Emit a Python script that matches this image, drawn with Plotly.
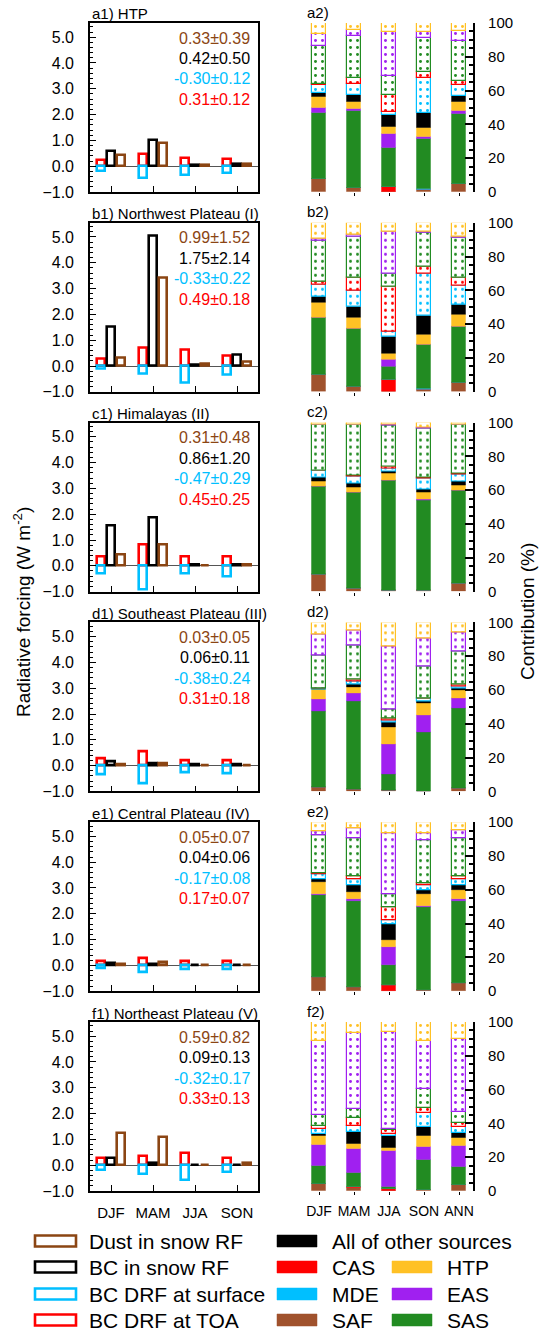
import plotly.graph_objects as go

# ---------------- data ----------------
SEASONS4 = ["DJF", "MAM", "JJA", "SON"]
SEASONS5 = ["DJF", "MAM", "JJA", "SON", "ANN"]
REGIONS = ["HTP", "Northwest Plateau (I)", "Himalayas (II)",
           "Southeast Plateau (III)", "Central Plateau (IV)", "Northeast Plateau (V)"]
LETTERS = ["a", "b", "c", "d", "e", "f"]

# left panels: radiative forcing (W m-2), rows = regions, cols = DJF MAM JJA SON
BC_DRF_TOA = [
    [0.23, 0.49, 0.33, 0.29],
    [0.29, 0.70, 0.61, 0.40],
    [0.35, 0.82, 0.35, 0.35],
    [0.28, 0.55, 0.21, 0.22],
    [0.15, 0.26, 0.17, 0.16],
    [0.26, 0.35, 0.49, 0.27]]
BC_DRF_SFC = [
    [-0.19, -0.47, -0.35, -0.26],
    [-0.10, -0.30, -0.64, -0.36],
    [-0.30, -0.92, -0.30, -0.43],
    [-0.36, -0.70, -0.27, -0.31],
    [-0.12, -0.25, -0.15, -0.16],
    [-0.19, -0.36, -0.58, -0.28]]
BC_SNOW = [
    [0.60, 1.03, 0.04, 0.10],
    [1.51, 5.05, 0.05, 0.45],
    [1.56, 1.88, 0.04, 0.06],
    [0.18, 0.09, 0.03, 0.04],
    [0.10, 0.04, 0.01, 0.01],
    [0.27, 0.08, 0.01, 0.02]]
DUST_SNOW = [
    [0.42, 0.88, 0.03, 0.07],
    [0.32, 3.43, 0.10, 0.15],
    [0.43, 0.84, 0.02, 0.04],
    [0.05, 0.09, 0.01, 0.02],
    [0.04, 0.12, 0.02, 0.01],
    [1.23, 1.08, 0.01, 0.08]]

DUST_MEAN = [0.33, 0.99, 0.31, 0.03, 0.05, 0.59]
DUST_STD = [0.39, 1.52, 0.48, 0.05, 0.07, 0.82]
BCS_MEAN = [0.42, 1.75, 0.86, 0.06, 0.04, 0.09]
BCS_STD = [0.50, 2.14, 1.20, 0.11, 0.06, 0.13]
SFC_MEAN = [-0.30, -0.33, -0.47, -0.38, -0.17, -0.32]
SFC_STD = [0.12, 0.22, 0.29, 0.24, 0.08, 0.17]
TOA_MEAN = [0.31, 0.49, 0.45, 0.31, 0.17, 0.33]
TOA_STD = [0.12, 0.18, 0.25, 0.18, 0.07, 0.13]

# right panels: contribution (%), rows = regions, cols = DJF MAM JJA SON ANN
SAF = [[7.9, 2.2, 0, 1.0, 4.8], [9.9, 3.0, 0, 1.4, 5.5], [9.9, 1.6, 0.6, 0.5, 5.0],
       [2.6, 1.4, 0.6, 0, 1.8], [8.5, 2.2, 0, 0.3, 4.6], [4.4, 2.0, 0, 0.8, 3.6]]
CAS = [[0, 0, 3.0, 0, 0], [0, 0, 6.9, 0, 0], [0, 0, 0, 0, 0],
       [0, 0, 0, 0, 0], [0, 0, 3.4, 0, 0], [0, 0.2, 1.0, 0, 0]]
MDE = [[0, 0, 0, 0.6, 0], [0, 0, 0, 0.4, 0], [0, 0, 0, 0, 0],
       [0, 0, 0, 0, 0], [0, 0, 0, 0, 0], [0, 0, 0, 0, 0]]
SAS = [[39.1, 45.8, 23.2, 29.9, 41.2], [33.9, 34.2, 7.6, 26.3, 33.1], [52.1, 57.0, 64.9, 53.2, 55.0],
       [44.9, 52.1, 9.3, 34.9, 47.5], [48.5, 50.9, 12.0, 49.2, 48.5], [10.5, 8.7, 1.6, 17.6, 10.7]]
EAS = [[2.8, 1.0, 7.9, 1.0, 2.0], [0, 0, 4.5, 0, 0], [0, 0, 0, 0.6, 0],
       [6.8, 4.3, 18.2, 9.9, 5.9], [0.6, 1.2, 10.5, 1.0, 1.2], [12.2, 14.1, 21.2, 7.7, 12.2]]
HTP = [[6.2, 4.4, 4.4, 5.6, 5.0], [8.9, 6.4, 3.6, 5.8, 6.9], [3.3, 2.8, 4.4, 4.1, 3.0],
       [5.9, 4.0, 9.7, 7.5, 4.8], [7.0, 4.3, 4.2, 7.1, 5.5], [5.2, 2.7, 1.9, 6.6, 4.8]]
OTHER = [[2.3, 4.1, 6.9, 8.9, 3.9], [3.3, 6.5, 9.7, 10.9, 6.0], [2.0, 2.6, 1.4, 2.0, 2.3],
         [0.3, 1.8, 3.2, 1.0, 1.0], [1.5, 4.0, 9.5, 2.2, 3.2], [1.6, 7.0, 6.6, 5.1, 3.0]]
MDE_DOT = [[5.0, 6.2, 2.2, 20.3, 6.4], [7.4, 9.9, 3.5, 25.3, 11.5], [4.2, 4.1, 1.2, 6.5, 4.2],
           [0.7, 1.7, 1.2, 1.6, 1.4], [3.2, 3.5, 2.4, 3.0, 3.1], [2.7, 3.5, 1.4, 8.3, 3.3]]
CAS_DOT = [[0.8, 3.6, 9.7, 3.5, 2.6], [1.9, 7.3, 26.2, 3.8, 4.3], [0, 0.4, 1.4, 0.6, 0.4],
           [0, 0.8, 1.0, 0, 1.0], [0.4, 1.8, 7.9, 1.4, 2.0], [1.6, 5.0, 2.5, 2.8, 2.4]]
SAS_DOT = [[22.0, 24.8, 11.2, 20.5, 23.4], [24.2, 24.4, 8.1, 20.2, 23.6], [27.1, 30.3, 24.5, 29.1, 28.7],
           [19.2, 20.0, 5.1, 18.8, 19.2], [22.4, 22.8, 7.5, 25.1, 22.2], [6.8, 5.3, 0.3, 11.3, 6.9]]
EAS_DOT = [[7.6, 3.7, 26.1, 3.3, 5.7], [0.8, 1.4, 24.4, 0.4, 1.0], [0, 0, 0.4, 0.6, 0],
           [12.7, 8.9, 37.4, 17.0, 11.3], [2.6, 5.5, 35.9, 4.0, 5.1], [43.9, 44.8, 57.8, 28.7, 42.8]]
HTP_DOT = [[6.3, 4.2, 5.4, 5.4, 5.0], [9.7, 6.9, 5.5, 5.5, 8.1], [1.4, 1.2, 1.2, 2.8, 1.4],
           [6.9, 5.0, 14.3, 9.3, 6.1], [5.3, 3.8, 6.7, 6.7, 4.6], [11.1, 6.7, 5.7, 11.1, 10.3]]

# ---------------- styles ----------------
C_DUST = "#8B4513"
C_BC = "#000000"
C_SFC = "#00BFFF"
C_TOA = "#FF0000"
C_SAF = "#A0522D"
C_CAS = "#FF0000"
C_MDE = "#00BFFF"
C_SAS = "#228B22"
C_EAS = "#A020F0"
C_HTP = "#FFC125"
C_OTH = "#000000"
FONT = "Liberation Sans, Arial, sans-serif"

W, H = 548, 1335
def fx(p): return p / W
def fy(p): return 1 - p / H

ROW_TOP = [23 + 199.8 * i for i in range(6)]
PANEL_H = 169
LX0, LX1 = 90, 258
RX0, RX1 = 305, 473

def rgba(hexc, a):
    h = hexc.lstrip("#")
    return "rgba(%d,%d,%d,%.2f)" % (int(h[0:2], 16), int(h[2:4], 16), int(h[4:6], 16), a)

fig = go.Figure()
layout = {}
annotations = []
shapes = []

left_series = [(BC_DRF_TOA, C_TOA, -0.24), (BC_DRF_SFC, C_SFC, -0.24),
               (BC_SNOW, C_BC, 0.0), (DUST_SNOW, C_DUST, 0.24)]
solid_series = [(SAF, C_SAF), (CAS, C_CAS), (MDE, C_MDE), (SAS, C_SAS),
                (EAS, C_EAS), (HTP, C_HTP), (OTHER, C_OTH)]
dot_series = [(MDE_DOT, C_MDE), (CAS_DOT, C_CAS), (SAS_DOT, C_SAS),
              (EAS_DOT, C_EAS), (HTP_DOT, C_HTP)]

for r in range(6):
    top = ROW_TOP[r]
    bot = top + PANEL_H
    ydom = [fy(bot), fy(top)]
    nL, nR = 2 * r + 1, 2 * r + 2
    last = (r == 5)

    # ---- left panel
    for vals, col, off in left_series:
        fig.add_trace(go.Bar(
            x=[k + 1 + off for k in range(4)], y=vals[r], width=0.19,
            marker=dict(color="rgba(0,0,0,0)", line=dict(color=col, width=2.6)),
            xaxis="x%d" % nL, yaxis="y%d" % nL, showlegend=False, hoverinfo="y"))
    layout["xaxis%d" % nL] = dict(
        domain=[fx(LX0), fx(LX1)], range=[0.5, 4.5], anchor="y%d" % nL, automargin=False,
        tickmode="array", tickvals=[1, 2, 3, 4], ticktext=SEASONS4,
        showticklabels=last, ticks="inside", ticklen=6, tickwidth=1.2, tickcolor="black",
        showline=True, mirror=True, linecolor="black", linewidth=1.6,
        showgrid=False, zeroline=False, ticklabelstandoff=7,
        tickfont=dict(size=15, color="black"))
    layout["yaxis%d" % nL] = dict(
        domain=ydom, range=[-1, 5.55], anchor="x%d" % nL, automargin=False,
        tick0=0, dtick=1, tickformat=".1f", ticks="inside", ticklen=6, tickwidth=1.2,
        tickcolor="black",
        minor=dict(dtick=0.2, ticks="inside", ticklen=3, tickcolor="black", showgrid=False),
        showline=True, mirror=True, linecolor="black", linewidth=1.6,
        showgrid=False, zeroline=True, zerolinecolor="#555555", zerolinewidth=1,
        ticklabelstandoff=11, tickfont=dict(size=16, color="black"))

    # ---- right panel
    for vals, col in solid_series:
        fig.add_trace(go.Bar(
            x=SEASONS5, y=vals[r], width=0.4,
            marker=dict(color=col, line=dict(color=rgba(col, 0.45), width=1)),
            xaxis="x%d" % nR, yaxis="y%d" % nR, showlegend=False, hoverinfo="y"))
    for vals, col in dot_series:
        fig.add_trace(go.Bar(
            x=SEASONS5, y=vals[r], width=0.4,
            marker=dict(color="white", line=dict(color=col, width=1.2),
                        pattern=dict(shape=".", fgcolor=col, bgcolor="white",
                                     size=7, solidity=0.14, fillmode="replace")),
            xaxis="x%d" % nR, yaxis="y%d" % nR, showlegend=False, hoverinfo="y"))
    layout["xaxis%d" % nR] = dict(
        domain=[fx(RX0), fx(RX1)], range=[-0.4, 4.4], anchor="y%d" % nR, automargin=False,
        type="category", showticklabels=last, ticks="outside", ticklen=3,
        tickcolor="black", showline=False, showgrid=False, zeroline=False,
        ticklabelstandoff=4, tickfont=dict(size=14, color="black"))
    layout["yaxis%d" % nR] = dict(
        domain=ydom, range=[0, 100], anchor="x%d" % nR, side="right", automargin=False,
        tick0=0, dtick=20, ticks="inside", ticklen=8, tickwidth=2, tickcolor="black",
        minor=dict(dtick=5, ticks="inside", ticklen=4, tickcolor="black", showgrid=False),
        showline=True, linecolor="black", linewidth=2.2, showgrid=False, zeroline=False,
        ticklabelstandoff=10, tickfont=dict(size=15, color="black"))

    # ---- panel titles
    annotations.append(dict(x=fx(LX0), y=fy(top - 9), xref="paper", yref="paper",
                            text="%s1) %s" % (LETTERS[r], REGIONS[r]), showarrow=False,
                            xanchor="left", yanchor="middle", font=dict(size=15, color="black")))
    annotations.append(dict(x=fx(RX0), y=fy(top - 11), xref="paper", yref="paper",
                            text="%s2)" % LETTERS[r], showarrow=False,
                            xanchor="left", yanchor="middle", font=dict(size=15, color="black")))
    # ---- mean +- std texts
    stats = [(DUST_MEAN[r], DUST_STD[r], C_DUST), (BCS_MEAN[r], BCS_STD[r], C_BC),
             (SFC_MEAN[r], SFC_STD[r], C_SFC), (TOA_MEAN[r], TOA_STD[r], C_TOA)]
    for i, (m, s, col) in enumerate(stats):
        annotations.append(dict(x=fx(252), y=fy(top + 15 + 20.5 * i), xref="paper", yref="paper",
                                text="%.2f\u00b1%.2f" % (m, s), showarrow=False,
                                xanchor="right", yanchor="middle",
                                font=dict(size=16, color=col)))

# axis titles
annotations.append(dict(x=fx(22), y=fy(612), xref="paper", yref="paper",
                        text="Radiative forcing (W m<sup>-2</sup>)", textangle=-90,
                        xanchor="center", yanchor="middle",
                        showarrow=False, font=dict(size=19, color="black")))
annotations.append(dict(x=fx(528), y=fy(612), xref="paper", yref="paper",
                        text="Contribution (%)", textangle=-90,
                        xanchor="center", yanchor="middle",
                        showarrow=False, font=dict(size=19, color="black")))

# legend (drawn manually)
LEG_ROWS = [1241, 1267, 1294, 1320]
left_leg = [("Dust in snow RF", C_DUST), ("BC in snow RF", C_BC),
            ("BC DRF at surface", C_SFC), ("BC DRF at TOA", C_TOA)]
for (txt, col), yy in zip(left_leg, LEG_ROWS):
    shapes.append(dict(type="rect", xref="paper", yref="paper",
                       x0=fx(35), x1=fx(76), y0=fy(yy + 5.5), y1=fy(yy - 5.5),
                       line=dict(color=col, width=2.6), fillcolor="white"))
    annotations.append(dict(x=fx(87), y=fy(yy), xref="paper", yref="paper", text=txt,
                            showarrow=False, xanchor="left", yanchor="middle",
                            font=dict(size=21, color="black")))
right_leg = [("All of other sources", C_OTH, 0, 0), ("CAS", C_CAS, 1, 0), ("MDE", C_MDE, 2, 0),
             ("SAF", C_SAF, 3, 0), ("HTP", C_HTP, 1, 1), ("EAS", C_EAS, 2, 1), ("SAS", C_SAS, 3, 1)]
for txt, col, ri, ci in right_leg:
    yy = LEG_ROWS[ri]
    sx0 = 277 if ci == 0 else 392
    tx = 330 if ci == 0 else 445
    shapes.append(dict(type="rect", xref="paper", yref="paper",
                       x0=fx(sx0), x1=fx(sx0 + 40), y0=fy(yy + 6), y1=fy(yy - 6),
                       line=dict(color=rgba(col, 0.5), width=1), fillcolor=col))
    annotations.append(dict(x=fx(tx), y=fy(yy), xref="paper", yref="paper", text=txt,
                            showarrow=False, xanchor="left", yanchor="middle",
                            font=dict(size=21, color="black")))

fig.update_layout(
    template="none",
    width=W, height=H, margin=dict(l=0, r=0, t=0, b=0, pad=0, autoexpand=False),
    paper_bgcolor="white", plot_bgcolor="white",
    barmode="relative", bargap=0,
    font=dict(family=FONT, color="black"),
    annotations=annotations, shapes=shapes, showlegend=False,
    **layout)

fig.write_html("out.html", config={"displayModeBar": False},
               post_script="document.body.style.margin='0';document.body.style.padding='0';")
